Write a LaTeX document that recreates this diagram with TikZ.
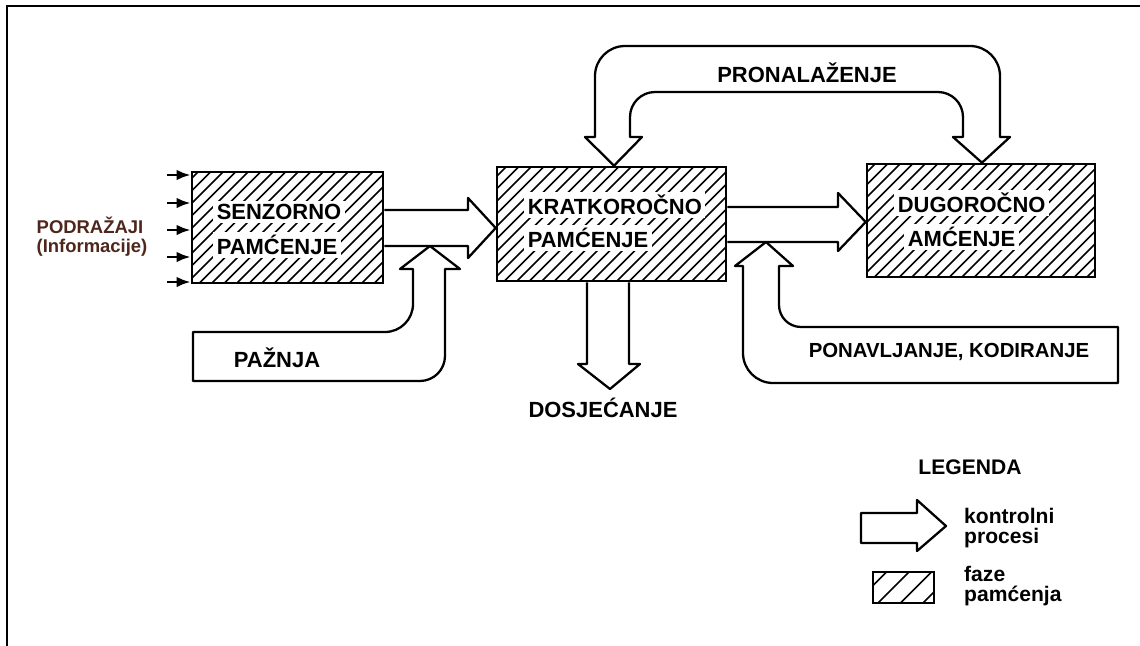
\documentclass[tikz,border=0pt]{standalone}
\usepackage{fontspec}
\setmainfont{Liberation Sans}
\usetikzlibrary{arrows.meta}

\definecolor{stimbrown}{RGB}{78,38,28}

\tikzset{
  hatch/.style={path picture={
      \foreach \k in {0,...,40}{
        \draw[line width=0.95pt] ([xshift={\k*#1-2.6cm}]path picture bounding box.south west) -- ++(2.8cm,2.8cm);}}},
  phase/.style={draw, line width=1.5pt, inner sep=0pt, hatch=0.25cm},
  ctrl/.style={draw, line width=1.3pt, fill=white, line join=round},
  lbl/.style={font=\fontsize{#1}{#1}\selectfont\bfseries},
  lbl/.default=12.5,
  boxtxt/.style={lbl, fill=white, inner sep=2pt},
}

\begin{document}
\begin{tikzpicture}[x=0.02cm, y=-0.02cm]
  \useasboundingbox (0,0) rectangle (1140,646);
  % frame
  \draw[line width=1.7pt] (7,646) -- (7,6) -- (1140,6);

  % phases of memory
  \node[phase, minimum width=3.82cm, minimum height=2.22cm] (senz) at (287.5,227.5) {};
  \node[phase, minimum width=4.58cm, minimum height=2.28cm] (kratko) at (611.5,224) {};
  \node[phase, minimum width=4.56cm, minimum height=2.26cm] (dugo) at (981,220.5) {};

  \node[boxtxt] (senzA) at (279,212) {SENZORNO};
  \node[boxtxt] (senzB) at (277,245) {PAMĆENJE};
  \node[boxtxt, anchor=west] (kratkoA) at (524,205) {KRATKOROČNO};
  \node[boxtxt, anchor=west] (kratkoB) at (524,238) {PAMĆENJE};
  \node[boxtxt, anchor=west] (dugoA) at (894,203) {DUGOROČNO};
  \node[boxtxt, anchor=west] (dugoB) at (904,237) {AMĆENJE};

  % stimuli
  \node[lbl=10.5, text=stimbrown] (stim) at (90,225) {PODRAŽAJI};
  \node[lbl=10.5, text=stimbrown] (stiminfo) at (92,248) {(Informacije)};
  \foreach \y in {175,203,230,257,282}{
    \coordinate (in\y) at (167,\y);
    \draw[line width=1.5pt, -{Latex[length=8pt,width=6pt]}] (in\y) -- (senz.west |- 0,\y);
  }

  % control processes
  \draw[ctrl] (senz.east |- 0,210) -- (468,210) -- (468,198) -- (kratko.west |- 0,228)
    -- (468,258) -- (468,246) -- (senz.east |- 0,246);
  \draw[ctrl] (kratko.east |- 0,207) -- (838,207) -- (838,193) -- (dugo.west |- 0,222)
    -- (838,251) -- (838,242) -- (kratko.east |- 0,242);

  \draw[ctrl] (585,137) -- (595,137) -- (595,76) arc[start angle=180, end angle=90, radius=0.6cm]
    -- (970,46) arc[start angle=90, end angle=0, radius=0.6cm] -- (1000,137) -- (1010,137)
    -- (982,0 |- dugo.north) -- (953,137) -- (963,137) -- (963,117)
    arc[start angle=0, end angle=90, radius=0.5cm] -- (655,92)
    arc[start angle=90, end angle=180, radius=0.5cm] -- (630,137) -- (642,137)
    -- (614,0 |- kratko.north) -- cycle;
  \node[lbl] (retrieval) at (807,73) {PRONALAŽENJE};

  \coordinate (recalltip) at (610,389);
  \draw[ctrl] (587,0 |- kratko.south) -- (587,364) -- (578,364) -- (recalltip) -- (640,364)
    -- (629,364) -- (629,0 |- kratko.south);
  \node[lbl] (recall) at (603,408) {DOSJEĆANJE};

  \coordinate (attntip) at (430,246);
  \draw[ctrl] (attntip) -- (460,269) -- (445,269) -- (445,356)
    arc[start angle=0, end angle=-90, radius=0.5cm] -- (193,381) -- (193,332) -- (385,332)
    arc[start angle=-90, end angle=0, radius=0.56cm] -- (413,269) -- (400,269) -- cycle;
  \node[lbl] (attn) at (277,358) {PAŽNJA};

  \coordinate (rehtip) at (766,242);
  \draw[ctrl] (rehtip) -- (793,266) -- (779,266) -- (779,305)
    arc[start angle=180, end angle=270, radius=0.44cm] -- (1118,327) -- (1118,383) -- (773,383)
    arc[start angle=270, end angle=180, radius=0.6cm] -- (743,266) -- (735,266) -- cycle;
  \node[lbl=11.6] (rehearsal) at (949,352) {PONAVLJANJE, KODIRANJE};

  % legend
  \node[lbl=12] (legend) at (970,467) {LEGENDA};
  \coordinate (keytip) at (946,526);
  \draw[ctrl] (861,513) -- (917,513) -- (917,500) -- (keytip) -- (917,551) -- (917,543)
    -- (861,543) -- cycle;
  \node[anchor=west, align=left, font=\fontsize{12}{11.5}\selectfont\bfseries] (ctrlkey) at (958,528) {kontrolni\\procesi};
  \node[phase, hatch=0.45cm, minimum width=1.22cm, minimum height=0.62cm] (phasekey) at (903.5,587.5) {};
  \node[anchor=west, align=left, font=\fontsize{12}{11.5}\selectfont\bfseries] (phasekeytxt) at (958,586) {faze\\pamćenja};
\end{tikzpicture}
\end{document}
